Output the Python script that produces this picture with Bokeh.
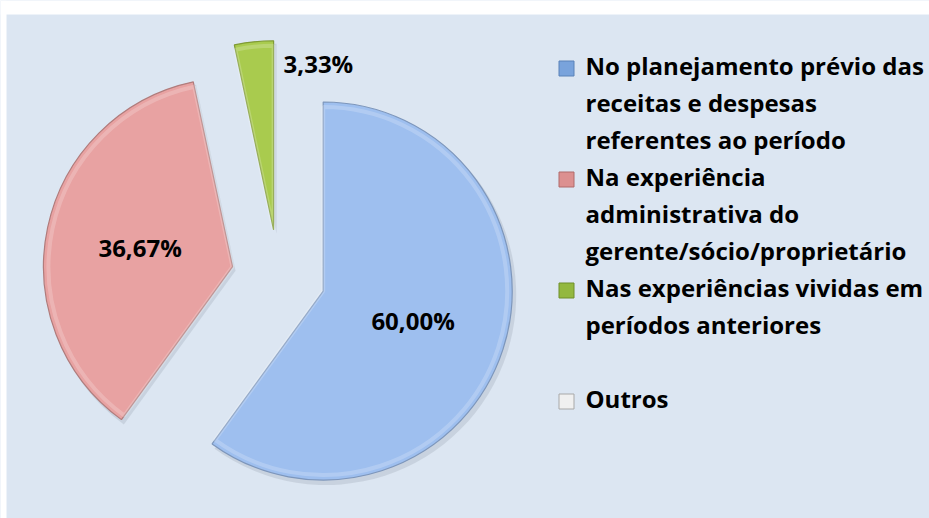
import numpy as np
from bokeh.plotting import figure
from bokeh.models import Range1d, ColumnDataSource, BoxAnnotation
from bokeh.core.properties import value
from bokeh.embed import file_html
from bokeh.resources import INLINE

# ---------------- data ----------------
categories = [
    "No planejamento prévio das receitas e despesas referentes ao período",
    "Na experiência administrativa do gerente/sócio/proprietário",
    "Nas experiências vividas em períodos anteriores",
    "Outros",
]
legend_lines = [
    ["No planejamento prévio das", "receitas e despesas", "referentes ao período"],
    ["Na experiência", "administrativa do", "gerente/sócio/proprietário"],
    ["Nas experiências vividas em", "períodos anteriores", ""],
    ["Outros"],
]
percent = [60.00, 36.67, 3.33, 0.00]
pct_labels = ["60,00%", "36,67%", "3,33%", "0,00%"]
slice_colors = ["#9ebfef", "#e8a2a2", "#a9cb4e", "#f4f4f4"]
edge_colors = ["#7d96bb", "#b07c7c", "#7f9a35", "#b0b0b0"]
marker_colors = ["#79a3dc", "#dc9090", "#93b83f", "#f0f0f0"]

# ---------------- geometry (page pixels -> data) ----------------
W, H = 929, 518
TOP, LEFT = 14, 6
BG = "#dce6f2"


def py(page_y):
    return H - page_y


FONT = value("Open Sans")

p = figure(width=W, height=H, x_range=Range1d(0, W), y_range=Range1d(0, H),
           output_backend="svg", toolbar_location=None,
           x_axis_type=None, y_axis_type=None,
           min_border_left=0, min_border_right=0, min_border_bottom=0, min_border_top=0)
p.grid.visible = False
p.outline_line_color = None
p.background_fill_color = BG
p.border_fill_color = BG

# white page strips above and left of the chart area
p.add_layout(BoxAnnotation(bottom=H - TOP, top=H, fill_color="white", fill_alpha=1.0,
                           line_color=None, level="underlay"))
p.add_layout(BoxAnnotation(left=0, right=LEFT, fill_color="white", fill_alpha=1.0,
                           line_color=None, level="underlay"))

cx, cy = 278.0, py(276.0)
R = 189.0
EXPLODE = 47.0

frac = np.array(percent) / 100.0
cum = np.concatenate([[0.0], np.cumsum(frac)])
start = np.pi / 2 - 2 * np.pi * cum[1:]
end = np.pi / 2 - 2 * np.pi * cum[:-1]
mid = (start + end) / 2
vx = cx + EXPLODE * np.cos(mid)
vy = cy + EXPLODE * np.sin(mid)

keep = frac > 0
src = ColumnDataSource(dict(x=vx[keep], y=vy[keep], s=start[keep], e=end[keep],
                            c=np.array(slice_colors)[keep], ec=np.array(edge_colors)[keep]))
shadow = ColumnDataSource(dict(x=vx[keep] + 3, y=vy[keep] - 4, s=start[keep], e=end[keep]))

p.wedge(x="x", y="y", radius=R + 1, start_angle="s", end_angle="e", source=shadow,
        fill_color="#9aa6b4", fill_alpha=0.3, line_color=None)
p.wedge(x="x", y="y", radius=R, start_angle="s", end_angle="e", source=src,
        fill_color="c", line_color="ec", line_width=1.2)
# subtle inner highlight for the bevel look
p.wedge(x="x", y="y", radius=R - 5, start_angle="s", end_angle="e", source=src,
        fill_color=None, line_color="white", line_alpha=0.2, line_width=4)

# percentage labels
lab_x, lab_y, lab_t, lab_align = [], [], [], []
for i in range(len(percent)):
    if not keep[i]:
        continue
    if frac[i] > 0.1:
        lab_x.append(vx[i] + 0.5 * R * np.cos(mid[i]))
        lab_y.append(vy[i] + 0.5 * R * np.sin(mid[i]))
        lab_align.append("center")
    else:
        lab_x.append(vx[i] + 10)
        lab_y.append(vy[i] + 0.87 * R + 2)
        lab_align.append("left")
    lab_t.append(pct_labels[i])
p.text(x=lab_x, y=lab_y, text=lab_t, text_align=lab_align, text_baseline="middle",
       text_font=FONT, text_font_style="bold", text_font_size="24px", text_color="black")

# legend (manual)
LX_MARK, LX_TEXT = 566, 585
line_h = 37
y0 = 68
tx, ty, tt = [], [], []
mx, my = [], []
row = 0
for i, lines in enumerate(legend_lines):
    mx.append(LX_MARK)
    my.append(py(y0 + row * line_h))
    for ln in lines:
        tx.append(LX_TEXT)
        ty.append(py(y0 - 3 + row * line_h))
        tt.append(ln)
        row += 1
p.rect(x=mx, y=my, width=15, height=15, fill_color=marker_colors,
       line_color=["#5b82b8", "#b06a6a", "#6f8f2a", "#a8a8a8"], line_width=1)
p.text(x=tx, y=ty, text=tt, text_align="left", text_baseline="middle",
       text_font=FONT, text_font_style="bold", text_font_size="24px", text_color="black")

open("out.html", "w").write(file_html(p, INLINE))
